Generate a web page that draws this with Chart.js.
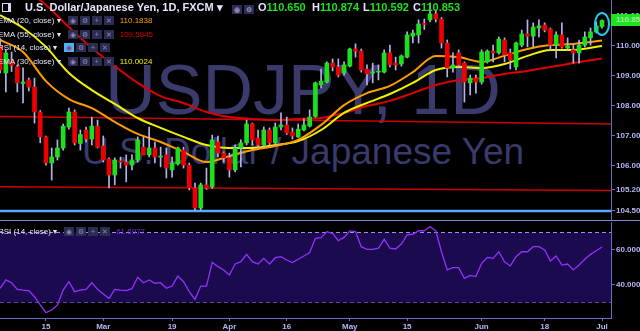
<!DOCTYPE html>
<html>
<head>
<meta charset="utf-8">
<script src="https://cdn.jsdelivr.net/npm/chart.js@4.4.0/dist/chart.umd.min.js"></script>
<style>
  html, body { margin: 0; padding: 0; background: #000; width: 640px; height: 331px; overflow: hidden; }
  body { font-family: "Liberation Sans", Arial, sans-serif; }
  #wrap { position: relative; width: 640px; height: 331px; }
  .wm { position: absolute; color: #3a3a6c; white-space: nowrap; text-align: center; width: 640px; left: -17px; }
  #wm1 { top: 50px; font-size: 70px; line-height: 80px; }
  #wm2 { top: 130px; font-size: 37px; line-height: 44px; }
  #priceCanvas { position: absolute; left: 0; top: 0; }
  #rsiCanvas { position: absolute; left: 0; top: 221px; }
  #sep { position: absolute; left: 0; top: 220px; width: 640px; height: 1px; background: #8686cc; }
  .hdr { position: absolute; top: 1px; font-size: 11px; line-height: 13px; font-weight: bold; color: #e4e4ff; white-space: nowrap; }
  .num { color: #1ee01e; }
  .lg { position: absolute; left: -2px; font-size: 8px; line-height: 10px; color: #e6e6f6; white-space: nowrap; }
  .ib { display: inline-block; width: 10px; height: 9px; margin-right: 2px; background: #2c2c52; color: #8a8ab4; font-size: 7px; line-height: 9px; text-align: center; vertical-align: middle; }
  .ib.on { background: #3fb8ff; color: #c0206a; }
  .boxes { display: inline-block; margin-left: 7px; }
  .val { margin-left: 4px; }
  #flag { position: absolute; left: 2px; top: 3px; width: 5px; height: 7px; border: 1px solid #d8d8f0; border-right-width: 3px; }
  #lastBox { position: absolute; left: 611px; width: 29px; height: 12px; background: #22e022; color: #9ff29f; font-size: 8px; line-height: 12px; font-weight: bold; padding-left: 5px; box-sizing: border-box; white-space: nowrap; overflow: hidden; }
</style>
</head>
<body>
<div id="wrap">
  <div class="wm" id="wm1">USDJPY, 1D</div>
  <div class="wm" id="wm2">U.S. Dollar / Japanese Yen</div>
  <canvas id="priceCanvas" width="640" height="220"></canvas>
  <div id="sep"></div>
  <canvas id="rsiCanvas" width="640" height="110"></canvas>

  <div id="flag"></div>
  <div class="hdr" style="left:25px">U.S. Dollar/Japanese Yen, 1D, FXCM ▾</div>
  <div class="hdr" style="left:232px;top:2px"><span class="ib">◉</span><span class="ib">⚙</span></div>
  <div class="hdr" style="left:258px">O<span class="num">110.650</span></div>
  <div class="hdr" style="left:312px">H<span class="num">110.874</span></div>
  <div class="hdr" style="left:363px">L<span class="num">110.592</span></div>
  <div class="hdr" style="left:413px">C<span class="num">110.853</span></div>

  <div class="lg" style="top:16px">EMA (20, close) ▾<span class="boxes"><span class="ib">◉</span><span class="ib">⚙</span><span class="ib">+</span><span class="ib">✕</span></span><span class="val" style="color:#ff9d00">110.1838</span></div>
  <div class="lg" style="top:30px">EMA (55, close) ▾<span class="boxes"><span class="ib">◉</span><span class="ib">⚙</span><span class="ib">+</span><span class="ib">✕</span></span><span class="val" style="color:#dd0000">109.5845</span></div>
  <div class="lg" style="top:43px">RSI (14, close) ▾<span class="boxes"><span class="ib on">◉</span><span class="ib">⚙</span><span class="ib">+</span><span class="ib">✕</span></span></div>
  <div class="lg" style="top:57px">EMA (30, close) ▾<span class="boxes"><span class="ib">◉</span><span class="ib">⚙</span><span class="ib">+</span><span class="ib">✕</span></span><span class="val" style="color:#eeee00">110.0024</span></div>
  <div class="lg" style="top:227px">RSI (14, close) ▾<span class="boxes"><span class="ib">◉</span><span class="ib">⚙</span><span class="ib">+</span><span class="ib">✕</span></span><span class="val" style="color:#7a2ee0">61.6977</span></div>

  <div id="lastBox">110.853</div>
</div>

<script>
// daily candles, 5 Feb 2018 .. 2 Jul 2018 (index = trading day)
const opens = [
  110.00, 109.10, 109.50, 109.30, 108.75, 108.87, 108.63, 107.80, 106.97, 106.10,
  106.30, 106.60, 107.30, 107.80, 106.75, 107.20, 106.90, 107.33, 106.67, 106.23,
  105.70, 106.17, 106.13, 106.03, 106.20, 106.63, 106.37, 106.60, 106.30, 106.37,
  105.87, 106.07, 106.53, 106.03, 105.27, 104.60, 105.37, 105.30, 106.80, 106.43,
  106.27, 105.87, 106.60, 106.77, 107.40, 106.93, 106.70, 107.20, 106.77, 107.30,
  107.37, 107.13, 106.97, 107.20, 107.33, 107.65, 108.70, 108.80, 109.43, 109.30,
  109.10, 109.33, 109.90, 109.83, 109.23, 109.10, 109.13, 109.13, 109.77, 109.43,
  109.40, 109.63, 110.33, 110.37, 110.75, 110.87, 111.07, 110.90, 110.10, 109.27,
  109.77, 109.43, 108.77, 108.93, 108.80, 109.47, 109.83, 109.77, 110.20, 109.77,
  109.30, 110.03, 110.40, 110.33, 110.60, 110.70, 110.57, 110.03, 110.37, 109.93,
  109.87, 109.77, 110.03, 110.27, 110.47, 110.650
];
const highs = [
  110.25, 109.87, 109.80, 109.37, 109.27, 108.93, 108.93, 107.85, 107.00, 106.60,
  106.87, 107.40, 107.93, 107.87, 107.20, 107.30, 107.63, 107.53, 107.00, 106.27,
  106.27, 106.30, 106.37, 106.37, 106.97, 106.97, 107.30, 106.80, 106.63, 106.60,
  106.30, 106.63, 106.63, 106.10, 105.43, 105.43, 105.93, 107.03, 107.00, 106.47,
  106.43, 106.70, 106.87, 107.53, 107.43, 107.20, 107.30, 107.27, 107.43, 107.77,
  107.63, 107.27, 107.40, 107.57, 107.87, 108.80, 109.23, 109.47, 109.57, 109.57,
  109.47, 109.93, 110.07, 109.90, 109.37, 109.43, 109.37, 109.87, 110.03, 109.63,
  109.70, 110.47, 110.53, 110.87, 110.90, 111.43, 111.20, 110.95, 110.20, 109.77,
  109.87, 109.47, 109.03, 109.03, 109.87, 109.87, 110.03, 110.30, 110.27, 109.90,
  110.13, 110.53, 110.87, 110.77, 110.87, 110.77, 110.60, 110.47, 110.77, 110.27,
  110.03, 110.20, 110.47, 110.60, 110.80, 110.874
];
const lows = [
  109.10, 108.47, 109.15, 108.47, 108.10, 108.50, 107.43, 106.77, 106.03, 105.53,
  106.20, 106.53, 107.23, 106.70, 106.53, 106.80, 106.70, 106.60, 106.13, 105.27,
  105.37, 105.93, 105.47, 105.87, 106.13, 106.37, 106.30, 106.10, 105.97, 105.60,
  105.63, 106.03, 105.93, 105.20, 104.53, 104.53, 105.22, 105.25, 106.30, 106.13,
  105.63, 105.80, 105.97, 106.70, 106.70, 106.60, 106.63, 106.70, 106.70, 107.20,
  107.05, 106.90, 106.95, 107.17, 107.30, 107.62, 108.60, 108.77, 109.17, 108.97,
  109.03, 109.30, 109.63, 109.13, 108.70, 108.77, 108.87, 109.10, 109.30, 109.20,
  109.33, 109.60, 110.10, 110.10, 110.55, 110.80, 110.80, 109.93, 108.97, 109.13,
  109.27, 108.13, 108.37, 108.43, 108.73, 109.43, 109.47, 109.73, 109.47, 109.23,
  109.20, 109.97, 109.97, 109.97, 110.30, 110.47, 109.87, 109.60, 109.93, 109.87,
  109.43, 109.43, 109.97, 110.03, 110.43, 110.592
];
const closes = [
  109.20, 109.77, 109.35, 108.77, 108.80, 108.63, 107.80, 106.97, 106.10, 106.30,
  106.60, 107.33, 107.80, 106.77, 107.05, 106.90, 107.33, 106.63, 106.20, 105.70,
  106.20, 106.13, 106.03, 106.20, 106.87, 106.37, 106.60, 106.30, 106.33, 105.93,
  106.10, 106.60, 106.03, 105.27, 104.60, 105.37, 105.27, 106.87, 106.43, 106.27,
  105.87, 106.60, 106.77, 107.40, 106.87, 106.70, 107.20, 106.77, 107.30, 107.37,
  107.10, 107.00, 107.23, 107.37, 107.63, 108.77, 108.83, 109.43, 109.30, 109.03,
  109.37, 109.90, 109.83, 109.20, 109.07, 109.13, 109.15, 109.77, 109.37, 109.37,
  109.67, 110.37, 110.43, 110.73, 110.72, 111.07, 110.90, 110.10, 109.27, 109.37,
  109.37, 108.80, 108.93, 108.80, 109.80, 109.83, 109.77, 110.23, 109.70, 109.53,
  110.10, 110.40, 110.33, 110.63, 110.67, 110.53, 110.03, 110.37, 109.97, 110.00,
  109.77, 110.03, 110.30, 110.47, 110.67, 110.853
];

// moving averages at every 4th bar
const emaBars = [0, 4, 8, 12, 16, 20, 24, 28, 32, 36, 40, 44, 48, 52, 56, 60, 64, 68, 72, 76, 80, 84, 88, 92, 96, 100, 105];
const ema20 = [110.20, 109.80, 108.83, 108.23, 107.93, 107.47, 107.07, 106.80, 106.47, 106.13, 106.33, 106.53, 106.67, 106.87,
  107.37, 108.03, 108.43, 108.67, 109.13, 109.67, 109.63, 109.47, 109.68, 109.90, 110.03, 110.07, 110.18];
const ema30 = [111.03, 110.60, 109.97, 109.10, 108.53, 108.07, 107.60, 107.27, 106.97, 106.70, 106.60, 106.60, 106.70, 106.83,
  107.20, 107.77, 108.10, 108.40, 108.77, 109.20, 109.30, 109.27, 109.40, 109.67, 109.87, 109.87, 110.00];
const ema55 = [112.33, 111.93, 111.37, 110.63, 109.93, 109.33, 108.77, 108.33, 108.10, 107.80, 107.63, 107.57, 107.53, 107.57,
  107.60, 107.77, 108.00, 108.17, 108.43, 108.70, 108.87, 108.93, 109.07, 109.17, 109.30, 109.43, 109.58];

const rsi14 = [
  38.1, 42.9, 41.3, 37.5, 37.1, 36.8, 33.3, 28.6, 24.2, 25.7,
  28.6, 37.1, 41.9, 36.2, 37.1, 37.5, 41.3, 37.5, 34.9, 32.4,
  37.5, 37.1, 36.8, 37.9, 44.4, 41.3, 42.9, 41.0, 41.3, 38.1,
  39.4, 45.1, 41.9, 36.2, 31.8, 39.4, 39.4, 53.0, 50.5, 48.6,
  45.7, 52.0, 53.3, 57.5, 53.3, 52.0, 55.2, 52.0, 55.6, 56.2,
  54.3, 52.8, 54.7, 56.6, 58.5, 66.7, 67.0, 70.5, 69.5, 65.3,
  67.2, 70.9, 70.5, 61.9, 60.4, 60.4, 61.0, 66.1, 61.0, 60.6,
  63.4, 68.6, 69.0, 71.0, 71.0, 73.3, 71.0, 59.0, 48.6, 49.9,
  49.9, 43.8, 45.5, 44.8, 52.4, 55.8, 55.2, 59.0, 53.3, 50.9,
  56.2, 59.0, 59.0, 61.9, 61.9, 60.0, 53.7, 56.6, 51.4, 52.0,
  48.6, 51.4, 54.7, 57.5, 59.6, 61.7
];

// drawn levels: two red trend lines and the blue support
const trendX = [-0.02, 106.57];
const upperTrend = [107.65, 107.40];
const lowerTrend = [105.31, 105.18];
const supportLine = [104.50, 104.50];
const rsiBands = [70, 30];

const tickBars = [8, 18, 30, 40, 50, 61, 71, 84, 95, 105];
const tickLabels = ['15', 'Mar', '19', 'Apr', '16', 'May', '15', 'Jun', '18', 'Jul'];
const priceTicks = [111, 110, 109, 108, 107, 106, 105.2, 104.5];
const rsiTicks = [60, 40];

const axisColor = '#6c6cc4';
const labelColor = '#b6b6f6';
const upColor = '#1be01b';
const downColor = '#ee0000';

Chart.defaults.font.family = "'Liberation Sans', Arial, sans-serif";

const pts = (xs, ys) => xs.map((x, i) => ({ x: x, y: ys[i] }));

// right-hand axis: fixed width, no extra room for half labels
const fitRight = s => { s.width = 29; s.paddingTop = 0; s.paddingBottom = 0; };

const circleLast = {
  id: 'circleLast',
  afterDatasetsDraw(chart) {
    const { ctx, scales } = chart;
    const last = closes.length - 1;
    const cx = scales.x.getPixelForValue(last);
    const cy = scales.y.getPixelForValue((highs[last] + lows[last]) / 2);
    ctx.save();
    ctx.strokeStyle = '#1ec8f0';
    ctx.lineWidth = 2;
    ctx.beginPath();
    ctx.ellipse(cx, cy, 7, 11, 0, 0, Math.PI * 2);
    ctx.stroke();
    ctx.restore();
  }
};

const priceChart = new Chart(document.getElementById('priceCanvas'), {
  type: 'bar',
  data: {
    datasets: [
      {
        data: closes.map((c, i) => ({ x: i, y: [opens[i], c] })),
        backgroundColor: closes.map((c, i) => c >= opens[i] ? upColor : downColor),
        barThickness: 4, minBarLength: 1, grouped: false, order: 0
      },
      {
        data: closes.map((c, i) => ({ x: i, y: [lows[i], highs[i]] })),
        backgroundColor: '#b4b4ec',
        barThickness: 1, grouped: false, order: 1
      },
      { type: 'line', data: pts(emaBars, ema20), borderColor: '#ff9d00', borderWidth: 2, pointRadius: 0, cubicInterpolationMode: 'monotone', order: 3 },
      { type: 'line', data: pts(emaBars, ema30), borderColor: '#f2f200', borderWidth: 2, pointRadius: 0, cubicInterpolationMode: 'monotone', order: 4 },
      { type: 'line', data: pts(emaBars, ema55), borderColor: '#dd0000', borderWidth: 2, pointRadius: 0, cubicInterpolationMode: 'monotone', order: 5 },
      { type: 'line', data: pts(trendX, upperTrend), borderColor: '#cc0000', borderWidth: 1.5, pointRadius: 0, order: 6 },
      { type: 'line', data: pts(trendX, lowerTrend), borderColor: '#cc0000', borderWidth: 1.5, pointRadius: 0, order: 6 },
      { type: 'line', data: pts(trendX, supportLine), borderColor: '#58a8ff', borderWidth: 2.5, pointRadius: 0, order: 6 }
    ]
  },
  options: {
    responsive: false,
    animation: false,
    events: [],
    layout: { padding: 0 },
    plugins: { legend: { display: false }, tooltip: { enabled: false } },
    scales: {
      x: { type: 'linear', min: trendX[0], max: trendX[1], offset: false, display: false },
      y: {
        position: 'right',
        min: 104.2,
        max: 111.5333,
        afterFit: fitRight,
        afterBuildTicks: s => { s.ticks = priceTicks.map(v => ({ value: v })); },
        grid: { drawOnChartArea: false, drawTicks: true, tickLength: 4, color: axisColor },
        border: { color: axisColor, width: 1 },
        ticks: { color: labelColor, font: { size: 8, weight: 'bold' }, padding: 1, callback: v => v.toFixed(3) }
      }
    }
  },
  plugins: [circleLast]
});

new Chart(document.getElementById('rsiCanvas'), {
  type: 'line',
  data: {
    datasets: [
      { data: rsi14.map((v, i) => ({ x: i, y: v })), borderColor: '#9430ff', borderWidth: 1.3, pointRadius: 0, order: 0 },
      { data: pts(trendX, [rsiBands[0], rsiBands[0]]), borderColor: '#9d8ff5', borderWidth: 1, borderDash: [4, 3], pointRadius: 0, fill: '+1', backgroundColor: '#1b0a4e', order: 1 },
      { data: pts(trendX, [rsiBands[1], rsiBands[1]]), borderColor: '#9d8ff5', borderWidth: 1, borderDash: [4, 3], pointRadius: 0, order: 2 }
    ]
  },
  options: {
    responsive: false,
    animation: false,
    events: [],
    layout: { padding: { top: 1 } },
    plugins: { legend: { display: false }, tooltip: { enabled: false } },
    scales: {
      x: {
        type: 'linear', min: trendX[0], max: trendX[1], offset: false,
        afterFit: s => { s.height = 13; s.paddingLeft = 0; s.paddingRight = 0; },
        afterBuildTicks: s => { s.ticks = tickBars.map(v => ({ value: v })); },
        grid: { drawOnChartArea: false, drawTicks: true, tickLength: 3, color: axisColor },
        border: { color: axisColor, width: 1 },
        ticks: { color: labelColor, font: { size: 8, weight: 'bold' }, padding: 1, maxRotation: 0, autoSkip: false,
          callback: (v, i) => tickLabels[i] }
      },
      y: {
        position: 'right',
        min: 21.14,
        max: 76,
        afterFit: fitRight,
        afterBuildTicks: s => { s.ticks = rsiTicks.map(v => ({ value: v })); },
        grid: { drawOnChartArea: false, drawTicks: true, tickLength: 4, color: axisColor },
        border: { color: axisColor, width: 1 },
        ticks: { color: labelColor, font: { size: 8, weight: 'bold' }, padding: 1, callback: v => v.toFixed(3) }
      }
    }
  }
});

// last price tag on the right axis
const lastY = priceChart.scales.y.getPixelForValue(closes[closes.length - 1]);
document.getElementById('lastBox').style.top = Math.round(lastY - 6) + 'px';
</script>
</body>
</html>
